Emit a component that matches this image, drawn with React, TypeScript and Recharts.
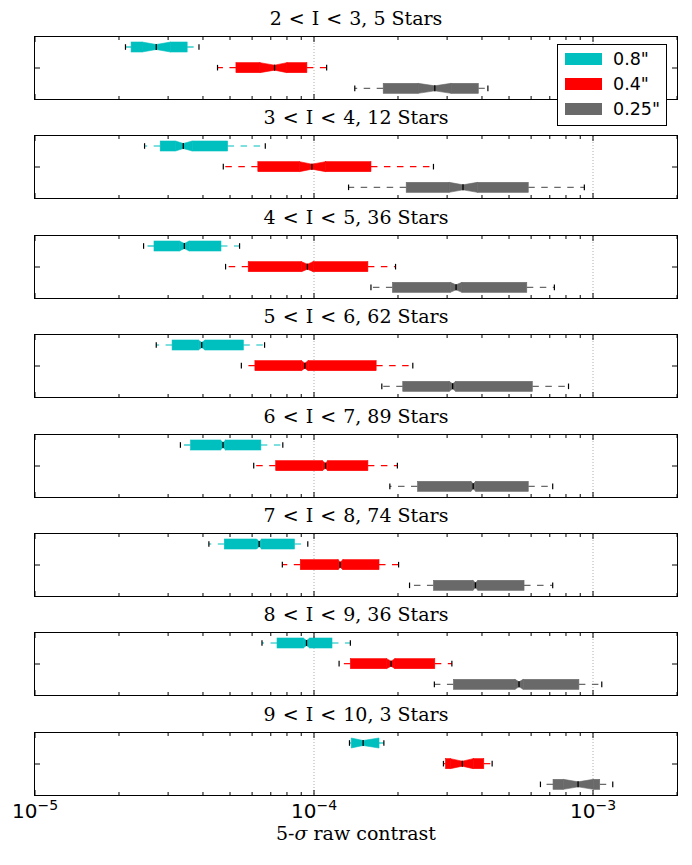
import React from 'react';
import { ComposedChart, Bar, XAxis, YAxis, CartesianGrid } from 'recharts';

const panelTitles = [
  '2 < I < 3, 5 Stars',
  '3 < I < 4, 12 Stars',
  '4 < I < 5, 36 Stars',
  '5 < I < 6, 62 Stars',
  '6 < I < 7, 89 Stars',
  '7 < I < 8, 74 Stars',
  '8 < I < 9, 36 Stars',
  '9 < I < 10, 3 Stars',
];

const seeings = ['0.8"', '0.4"', '0.25"'];
const seeingColors = ['#00bfbf', '#ff0000', '#696969'];

// one row per panel: [whisker lo, q1, notch lo, median, notch hi, q3, whisker hi]
const boxes08 = [
  [2.11e-5, 2.21e-5, 2.42e-5, 2.72e-5, 3.06e-5, 3.51e-5, 3.87e-5],
  [2.47e-5, 2.81e-5, 3.19e-5, 3.4e-5, 3.66e-5, 4.9e-5, 6.69e-5],
  [2.45e-5, 2.67e-5, 3.29e-5, 3.43e-5, 3.57e-5, 4.64e-5, 5.41e-5],
  [2.72e-5, 3.1e-5, 3.85e-5, 3.96e-5, 4.07e-5, 5.58e-5, 6.65e-5],
  [3.32e-5, 3.61e-5, 4.62e-5, 4.72e-5, 4.82e-5, 6.45e-5, 7.73e-5],
  [4.2e-5, 4.77e-5, 6.23e-5, 6.36e-5, 6.49e-5, 8.51e-5, 9.5e-5],
  [6.51e-5, 7.37e-5, 9.15e-5, 9.4e-5, 9.66e-5, 1.16e-4, 1.35e-4],
  [1.34e-4, 1.36e-4, 1.36e-4, 1.5e-4, 1.71e-4, 1.71e-4, 1.78e-4],
];
const boxes04 = [
  [4.51e-5, 5.25e-5, 6.4e-5, 7.22e-5, 8.0e-5, 9.43e-5, 1.11e-4],
  [4.73e-5, 6.29e-5, 8.87e-5, 9.83e-5, 1.1e-4, 1.6e-4, 2.68e-4],
  [4.82e-5, 5.81e-5, 9.02e-5, 9.47e-5, 9.93e-5, 1.56e-4, 1.96e-4],
  [5.49e-5, 6.14e-5, 9.02e-5, 9.27e-5, 9.53e-5, 1.67e-4, 2.26e-4],
  [6.08e-5, 7.29e-5, 1.07e-4, 1.1e-4, 1.12e-4, 1.56e-4, 1.99e-4],
  [7.7e-5, 8.93e-5, 1.22e-4, 1.24e-4, 1.27e-4, 1.71e-4, 2.01e-4],
  [1.23e-4, 1.35e-4, 1.82e-4, 1.89e-4, 1.95e-4, 2.71e-4, 3.12e-4],
  [2.91e-4, 2.96e-4, 3.08e-4, 3.4e-4, 3.72e-4, 4.06e-4, 4.35e-4],
];
const boxes025 = [
  [1.4e-4, 1.77e-4, 2.36e-4, 2.71e-4, 3.1e-4, 3.88e-4, 4.2e-4],
  [1.33e-4, 2.14e-4, 3.05e-4, 3.42e-4, 3.85e-4, 5.86e-4, 9.31e-4],
  [1.6e-4, 1.91e-4, 3.08e-4, 3.23e-4, 3.39e-4, 5.79e-4, 7.27e-4],
  [1.75e-4, 2.08e-4, 3.05e-4, 3.14e-4, 3.22e-4, 6.06e-4, 8.17e-4],
  [1.87e-4, 2.35e-4, 3.65e-4, 3.72e-4, 3.8e-4, 5.86e-4, 7.17e-4],
  [2.2e-4, 2.68e-4, 3.71e-4, 3.79e-4, 3.87e-4, 5.66e-4, 7.17e-4],
  [2.7e-4, 3.16e-4, 5.25e-4, 5.43e-4, 5.62e-4, 8.9e-4, 1.075e-3],
  [6.48e-4, 7.19e-4, 7.83e-4, 8.84e-4, 1.003e-3, 1.057e-3, 1.177e-3],
];

const xTicks = [
  1e-5, 2e-5, 3e-5, 4e-5, 5e-5, 6e-5, 7e-5, 8e-5, 9e-5,
  1e-4, 2e-4, 3e-4, 4e-4, 5e-4, 6e-4, 7e-4, 8e-4, 9e-4,
  1e-3, 2e-3,
];
const majorTicks = [1e-5, 1e-4, 1e-3];
const gridLines = [1e-4, 1e-3];

const FRAME_LEFT = 35;
const FRAME_RIGHT = 677;
const FRAME_H = 62;
const FIRST_TOP = 37;
const PANEL_STEP = 99.4;
const BAR = 10;

const colorOf = (p: any) => seeingColors[seeings.indexOf(p.payload?.name)] ?? '#000';

function LowWhisker(p: any) {
  const c = colorOf(p);
  const cy = p.y + p.height / 2;
  return (
    <g>
      <line x1={p.x + p.width} x2={p.x} y1={cy} y2={cy} stroke={c} strokeWidth={1.2} strokeDasharray="6.5 6.5" />
      <line x1={p.x} x2={p.x} y1={cy - 2.8} y2={cy + 2.8} stroke="#000" strokeWidth={1.2} />
    </g>
  );
}

function HighWhisker(p: any) {
  const c = colorOf(p);
  const cy = p.y + p.height / 2;
  return (
    <g>
      <line x1={p.x} x2={p.x + p.width} y1={cy} y2={cy} stroke={c} strokeWidth={1.2} strokeDasharray="6.5 6.5" />
      <line x1={p.x + p.width} x2={p.x + p.width} y1={cy - 2.8} y2={cy + 2.8} stroke="#000" strokeWidth={1.2} />
    </g>
  );
}

function BoxPart(p: any) {
  const c = colorOf(p);
  if (!(p.width > 0)) return <g />;
  return <rect x={p.x} y={p.y} width={p.width} height={p.height} fill={c} stroke={c} strokeWidth={0.6} />;
}

function NotchIn(p: any) {
  const c = colorOf(p);
  const { x, y, width: w, height: h } = p;
  const i = h / 4;
  return (
    <polygon
      points={`${x},${y} ${x + w},${y + i} ${x + w},${y + h - i} ${x},${y + h}`}
      fill={c}
      stroke={c}
      strokeWidth={0.6}
    />
  );
}

function NotchOut(p: any) {
  const c = colorOf(p);
  const { x, y, width: w, height: h } = p;
  const i = h / 4;
  return (
    <g>
      <polygon
        points={`${x},${y + i} ${x + w},${y} ${x + w},${y + h} ${x},${y + h - i}`}
        fill={c}
        stroke={c}
        strokeWidth={0.6}
      />
      <line x1={x} x2={x} y1={y + i - 0.5} y2={y + h - i + 0.5} stroke="#000" strokeWidth={1.3} />
    </g>
  );
}

function XTick(props: any) {
  const { x, payload, side, labels, edge } = props;
  const v = payload.value;
  const major = majorTicks.some((m) => Math.abs(m - v) < m * 1e-6);
  const len = major ? 5 : 3;
  const dir = side === 'bottom' ? -1 : 1;
  const exp = Math.round(Math.log10(v));
  return (
    <g>
      <line x1={x} x2={x} y1={edge} y2={edge + dir * len} stroke="#000" strokeWidth={1} />
      {labels && major && (
        <text x={x} y={edge + 23} textAnchor="middle" fontFamily="DejaVu Sans" fontSize={20} fill="#000">
          10
          <tspan dy={-8} fontSize={14}>
            {'\u2212' + String(-exp)}
          </tspan>
        </text>
      )}
    </g>
  );
}

function YTick(props: any) {
  const { y, payload, side } = props;
  if (payload.value !== seeings[1]) return <g />;
  const x0 = side === 'left' ? FRAME_LEFT : FRAME_RIGHT;
  const dir = side === 'left' ? 1 : -1;
  return <line x1={x0} x2={x0 + dir * 5} y1={y} y2={y} stroke="#000" strokeWidth={1} />;
}

function PanelTitle({ text, top }: { text: string; top: number }) {
  const cut = text.indexOf(', ');
  return (
    <div
      style={{
        position: 'absolute',
        left: FRAME_LEFT,
        width: FRAME_RIGHT - FRAME_LEFT,
        top: top - 31,
        height: 24,
        lineHeight: '24px',
        textAlign: 'center',
        fontFamily: '"DejaVu Serif", serif',
        fontSize: 19,
        color: '#000',
        whiteSpace: 'pre',
      }}
    >
      <span style={{ wordSpacing: 1 }}>{text.slice(0, cut)}</span>
      {text.slice(cut)}
    </div>
  );
}

function Panel({ index }: { index: number }) {
  const isLast = index === panelTitles.length - 1;
  const rows = seeings.map((name, k) => {
    const b = [boxes08, boxes04, boxes025][k][index];
    return { name, lo: b[0], q1: b[1], nlo: b[2], med: b[3], nhi: b[4], q3: b[5], hi: b[6] };
  });
  const top = FIRST_TOP + index * PANEL_STEP;
  const padTop = 10;
  const padBottom = isLast ? 50 : 10;
  const plotTop = padTop;
  const plotBottom = padTop + FRAME_H;
  return (
    <>
      <PanelTitle text={panelTitles[index]} top={top} />
      <div style={{ position: 'absolute', left: 0, top: top - padTop }}>
        <ComposedChart
          width={692}
          height={padTop + FRAME_H + padBottom}
          data={rows}
          layout="vertical"
          margin={{ top: padTop - 1, bottom: padBottom - 1, left: FRAME_LEFT - 1, right: 692 - FRAME_RIGHT - 1 }}
          barSize={BAR}
          barGap={-BAR}
        >
          <CartesianGrid horizontal={false} verticalValues={gridLines} stroke="#999" strokeDasharray="1 2" strokeWidth={0.8} />
          <XAxis
            type="number"
            scale="log"
            domain={[1e-5, 2e-3]}
            allowDataOverflow
            ticks={xTicks}
            interval={0}
            height={1}
            tickSize={0}
            tickMargin={0}
            tickLine={false}
            axisLine={false}
            tick={(p: any) => <XTick {...p} side="bottom" edge={plotBottom} labels={isLast} />}
          />
          <XAxis
            xAxisId="top"
            orientation="top"
            type="number"
            scale="log"
            domain={[1e-5, 2e-3]}
            allowDataOverflow
            ticks={xTicks}
            interval={0}
            height={1}
            tickSize={0}
            tickMargin={0}
            tickLine={false}
            axisLine={false}
            tick={(p: any) => <XTick {...p} side="top" edge={plotTop} labels={false} />}
          />
          <YAxis
            type="category"
            dataKey="name"
            width={1}
            interval={0}
            tickSize={0}
            tickMargin={0}
            tickLine={false}
            axisLine={false}
            tick={(p: any) => <YTick {...p} side="left" />}
          />
          <YAxis
            yAxisId="right"
            orientation="right"
            type="category"
            dataKey="name"
            width={1}
            interval={0}
            tickSize={0}
            tickMargin={0}
            tickLine={false}
            axisLine={false}
            tick={(p: any) => <YTick {...p} side="right" />}
          />
          <Bar dataKey={(d: any) => [d.lo, d.q1]} shape={LowWhisker} isAnimationActive={false} />
          <Bar dataKey={(d: any) => [d.q3, d.hi]} shape={HighWhisker} isAnimationActive={false} />
          <Bar dataKey={(d: any) => [d.q1, d.nlo]} shape={BoxPart} isAnimationActive={false} />
          <Bar dataKey={(d: any) => [d.nhi, d.q3]} shape={BoxPart} isAnimationActive={false} />
          <Bar dataKey={(d: any) => [d.nlo, d.med]} shape={NotchIn} isAnimationActive={false} />
          <Bar dataKey={(d: any) => [d.med, d.nhi]} shape={NotchOut} isAnimationActive={false} />
        </ComposedChart>
      </div>
      <div
        style={{
          position: 'absolute',
          left: FRAME_LEFT - 1,
          top: Math.round(top) - 1,
          width: FRAME_RIGHT - FRAME_LEFT + 2,
          height: FRAME_H + 2,
          boxSizing: 'border-box',
          border: '1px solid #000',
          pointerEvents: 'none',
        }}
      />
    </>
  );
}

function SeeingLegend() {
  return (
    <div
      style={{
        position: 'absolute',
        left: 557,
        top: 44,
        width: 110,
        height: 82,
        boxSizing: 'border-box',
        border: '1px solid #000',
        background: '#fff',
        zIndex: 5,
      }}
    >
      {seeings.map((s, k) => (
        <React.Fragment key={s}>
          <div
            style={{
              position: 'absolute',
              left: 7,
              top: 8 + k * 25,
              width: 37,
              height: 12,
              background: seeingColors[k],
            }}
          />
          <div
            style={{
              position: 'absolute',
              left: 55,
              top: 3 + k * 25,
              lineHeight: '22px',
              fontFamily: '"DejaVu Sans", sans-serif',
              fontSize: 17.5,
              color: '#000',
            }}
          >
            {s}
          </div>
        </React.Fragment>
      ))}
    </div>
  );
}

export default function App() {
  return (
    <div style={{ position: 'absolute', left: 0, top: 0, width: 692, height: 865, background: '#fff', overflow: 'hidden' }}>
      {panelTitles.map((_, i) => (
        <Panel key={i} index={i} />
      ))}
      <SeeingLegend />
      <div
        style={{
          position: 'absolute',
          left: FRAME_LEFT,
          width: FRAME_RIGHT - FRAME_LEFT,
          top: 821,
          lineHeight: '24px',
          textAlign: 'center',
          fontFamily: '"DejaVu Serif", serif',
          fontSize: 19,
          color: '#000',
        }}
      >
        5-<i>σ</i> raw contrast
      </div>
    </div>
  );
}
